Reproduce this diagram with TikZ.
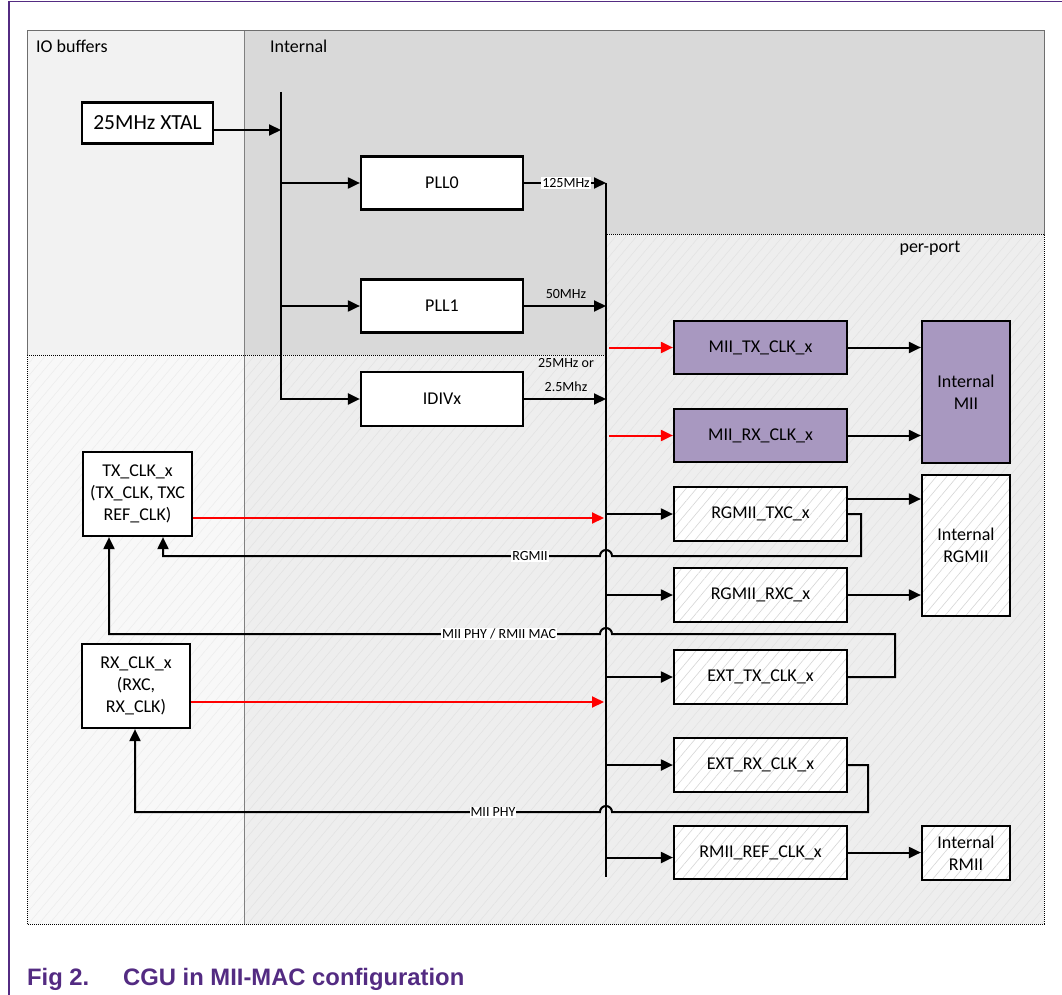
\documentclass[tikz,border=0pt]{standalone}
\usepackage{fontspec}
\setmainfont{Carlito}
\newfontfamily\capfont{Liberation Sans}
\usetikzlibrary{arrows.meta,patterns.meta}

\definecolor{nxppurple}{HTML}{532B82}
\definecolor{miifill}{HTML}{A898C0}
\definecolor{ioupper}{HTML}{F2F2F2}
\definecolor{iolower}{HTML}{F8F8F8}
\definecolor{intgray}{HTML}{D9D9D9}
\definecolor{portgray}{HTML}{EEEEEE}
\definecolor{bghatch}{HTML}{E3E3E3}
\definecolor{iohatch}{HTML}{EDEDED}
\definecolor{boxhatch}{HTML}{D6D6D6}
\definecolor{edgegray}{HTML}{6E6E6E}

\tikzset{
  hatched/.style 2 args={preaction={fill=#1},
    pattern={Lines[angle=50,distance=8pt,line width=0.6pt]}, pattern color=#2},
  blk/.style={draw=black, line width=2.2pt, inner sep=0pt, align=center,
    font=\fontsize{18}{22}\selectfont},
  plainblk/.style={blk, fill=white},
  hatchblk/.style={blk, hatched={white}{boxhatch}},
  miiblk/.style={blk, fill=miifill},
  portblk/.style={minimum width=173pt, minimum height=54pt},
  sideblk/.style={minimum width=88pt},
  arr/.style={line width=2pt, -{Triangle[length=12pt,width=11pt]}},
  redarr/.style={arr, draw=red},
  bus/.style={line width=2.2pt},
  freq/.style={font=\fontsize{14}{16}\selectfont, inner sep=1pt},
  tag/.style={freq, fill=white},
  region/.style={font=\fontsize{18}{20}\selectfont, inner sep=0pt},
  dotedge/.style={draw=black, line width=0.8pt, dash pattern=on 1pt off 1pt},
}

\begin{document}
\begin{tikzpicture}[x=1pt,y=-1pt]
\useasboundingbox (0,0) rectangle (1062,995);

% page frame
\draw[nxppurple, line width=1.5pt] (9,995) -- (9,1.5) -- (1062,1.5);

% background regions
\fill[ioupper] (27,31) rectangle (244,355);
\path[hatched={iolower}{iohatch}] (27,355) rectangle (244,924);
\fill[intgray] (244,31) -- (1044,31) -- (1044,234) -- (607,234) -- (607,355) -- (244,355) -- cycle;
\path[hatched={portgray}{bghatch}] (607,234) -- (1044,234) -- (1044,924) -- (244,924) -- (244,355) -- (607,355) -- cycle;

% region edges
\draw[edgegray, line width=1pt] (27,355) -- (27,31) -- (1044,31) -- (1044,234);
\draw[gray, line width=0.8pt] (244,31) -- (244,924);
\draw[dotedge] (27,355) -- (607,355);
\draw[dotedge] (607,234) -- (1044,234) -- (1044,924) -- (27,924) -- (27,355);

% region labels
\node[region, anchor=west] (lblio) at (36,46) {IO buffers};
\node[region, anchor=west] (lblint) at (270,46) {Internal};
\node[region] (lblport) at (930,248) {per-port};

% clock sources and generators
\node[plainblk, minimum width=131pt, minimum height=41pt,
      font=\fontsize{21.5}{24}\selectfont] (xtal) at (147.5,123) {25MHz XTAL};
\node[plainblk, minimum width=162pt, minimum height=53pt] (pll0) at (442,183) {PLL0};
\node[plainblk, minimum width=162pt, minimum height=53pt] (pll1) at (442,306) {PLL1};
\node[plainblk, minimum width=162pt, minimum height=54pt] (idiv) at (442,399) {IDIVx};
\node[plainblk, minimum width=109pt, minimum height=84pt] (txclk) at (137.5,494)
  {TX\_CLK\_x\\(TX\_CLK, TXC\\REF\_CLK)};
\node[plainblk, minimum width=108pt, minimum height=84pt] (rxclk) at (136,686)
  {RX\_CLK\_x\\(RXC,\\RX\_CLK)};

% per-port clock blocks
\node[miiblk, portblk, minimum height=53pt] (miitx) at (760.5,347.5) {MII\_TX\_CLK\_x};
\node[miiblk, portblk, minimum height=53pt] (miirx) at (760.5,435.5) {MII\_RX\_CLK\_x};
\node[hatchblk, portblk] (rgtx) at (760.5,514) {RGMII\_TXC\_x};
\node[hatchblk, portblk] (rgrx) at (760.5,595) {RGMII\_RXC\_x};
\node[hatchblk, portblk] (exttx) at (760.5,677) {EXT\_TX\_CLK\_x};
\node[hatchblk, portblk] (extrx) at (760.5,765) {EXT\_RX\_CLK\_x};
\node[hatchblk, portblk, minimum height=53pt] (rmii) at (760.5,852.5) {RMII\_REF\_CLK\_x};

% internal interfaces
\node[miiblk, sideblk, minimum height=142pt] (intmii) at (966,392) {Internal\\MII};
\node[hatchblk, sideblk, minimum height=141pt] (intrgmii) at (966,545.5) {Internal\\RGMII};
\node[hatchblk, sideblk, minimum height=54pt] (intrmii) at (966,853) {Internal\\RMII};

% reference bus
\coordinate (b1top) at (281,92);
\coordinate (b1in) at (281,130);
\draw[arr] (b1in -| xtal.east) -- (b1in);
\draw[arr, line width=2.2pt] (b1top) |- (idiv.west);
\draw[arr] (b1top |- pll0.west) -- (pll0.west);
\draw[arr] (b1top |- pll1.west) -- (pll1.west);

% per-port clock bus
\coordinate (b2top) at (606,183);
\coordinate (b2bot) at (606,877);
\draw[bus] (b2top) -- (b2bot);
\draw[arr] (pll0.east) -- (b2top |- pll0.east);
\node[tag] (f125) at (566,183) {125MHz};
\draw[arr] (pll1.east) -- (b2top |- pll1.east);
\node[freq] (f50) at (566,294) {50MHz};
\draw[arr] (idiv.east) -- (b2top |- idiv.east);
\node[freq] (f25) at (566,363) {25MHz or};
\node[freq] (f2) at (566,387) {2.5Mhz};

% pad clocks into the bus
\coordinate (txin) at (604,518);
\coordinate (rxin) at (604,702);
\draw[redarr] (txin -| txclk.east) -- (txin);
\draw[redarr] (rxin -| rxclk.east) -- (rxin);

% bus to per-port blocks
\draw[redarr] ([xshift=3pt]b2top |- miitx.west) -- (miitx.west);
\draw[redarr] ([xshift=3pt]b2top |- miirx.west) -- (miirx.west);
\draw[arr] (b2top |- rgtx.west) -- (rgtx.west);
\draw[arr] (b2top |- rgrx.west) -- (rgrx.west);
\draw[arr] (b2top |- exttx.west) -- (exttx.west);
\draw[arr] (b2top |- extrx.west) -- (extrx.west);
\draw[arr] ([yshift=-5pt]b2top |- rmii.west) -- ([yshift=-5pt]rmii.west);

% per-port blocks to internal interfaces
\draw[arr] (miitx.east) -- (miitx.east -| intmii.west);
\draw[arr] (miirx.east) -- (miirx.east -| intmii.west);
\draw[arr] ([yshift=15pt]rgtx.east) -- ([yshift=15pt]rgtx.east -| intrgmii.west);
\draw[arr] (rgrx.east) -- (rgrx.east -| intrgmii.west);
\draw[arr] (rmii.east) -- (rmii.east -| intrmii.west);

% return paths to the pads, hopping over the bus
\coordinate (fbA) at (861,556);
\coordinate (retA) at (163,556);
\draw[arr] (rgtx.east) -| (fbA) -- ([xshift=6pt]b2top |- fbA)
  arc[start angle=0, end angle=180, radius=6pt] -- (retA) -- (retA |- txclk.south);
\node[tag] (lblrg) at (530,556) {RGMII};

\coordinate (fbB) at (895,634);
\coordinate (retB) at (109,634);
\draw[arr] (exttx.east) -| (fbB) -- ([xshift=6pt]b2top |- fbB)
  arc[start angle=0, end angle=180, radius=6pt] -- (retB) -- (retB |- txclk.south);
\node[tag] (lblmac) at (499,634) {MII PHY / RMII MAC};

\coordinate (fbC) at (868,812);
\coordinate (retC) at (135,812);
\draw[arr] (extrx.east) -| (fbC) -- ([xshift=6pt]b2top |- fbC)
  arc[start angle=0, end angle=180, radius=6pt] -- (retC) -- (retC |- rxclk.south);
\node[tag] (lblphy) at (493,812) {MII PHY};

% caption
\node[anchor=base west, inner sep=0pt, text=nxppurple,
      font=\capfont\bfseries\fontsize{23.8}{28}\selectfont] (capnum) at (27,985) {Fig 2.};
\node[anchor=base west, inner sep=0pt, text=nxppurple,
      font=\capfont\bfseries\fontsize{23.8}{28}\selectfont] (captext) at (123,985)
      {CGU in MII-MAC configuration};
\end{tikzpicture}
\end{document}
